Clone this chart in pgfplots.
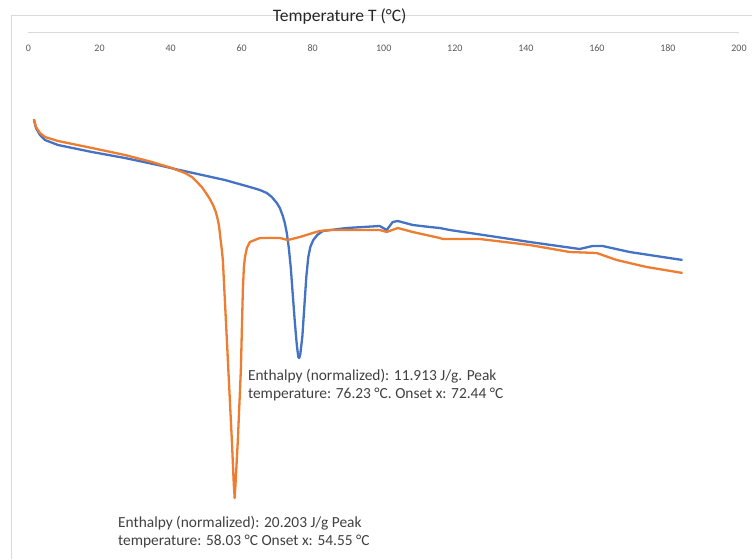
\documentclass[border=0pt]{standalone}
\usepackage{pgfplots}
\pgfplotsset{compat=1.18}
\usepackage{fontspec}
\setmainfont{Carlito}
\definecolor{xlblue}{HTML}{4472C4}
\definecolor{xlorange}{HTML}{ED7D31}
\definecolor{xlgrid}{HTML}{D9D9D9}
\definecolor{xltick}{HTML}{595959}
\definecolor{xltext}{HTML}{404040}
\begin{document}
\begin{tikzpicture}
\begin{axis}[
  scale only axis,
  width=710.5pt, height=527pt,
  xmin=0, xmax=200, ymin=-5.59, ymax=-0.32,
  axis x line=top, axis y line=none,
  x axis line style={-, draw=xlgrid, line width=0.8pt},
  xtick={0,20,...,200},
  major tick length=0pt,
  /pgf/number format/assume math mode=true,
  xticklabel style={anchor=base, yshift=-19.5pt, font=\fontsize{10}{12}\selectfont, text=xltick},
  clip=false,
]
% chart frame
\draw[xlgrid, line width=0.8pt] (axis cs:-4.93,-5.59) |- (axis cs:203.66,-0.15);
\node[anchor=base, inner sep=0pt, font=\fontsize{17.5}{20}\selectfont, text=black!85] at (axis cs:87.6,-0.22) {Temperature T (°C)};

\addplot[xlblue, line width=2.3pt, line join=round] coordinates {
(1.55,-1.20) (2.11,-1.28) (3.23,-1.35) (4.64,-1.40) (8.30,-1.45) (17.86,-1.52)
(27.14,-1.58) (36.43,-1.65) (41.21,-1.69) (55.27,-1.80) (62.31,-1.87) (65.12,-1.90)
(67.09,-1.93) (68.49,-1.97) (69.90,-2.03) (70.75,-2.08) (71.59,-2.16) (72.15,-2.23)
(72.71,-2.33) (73.28,-2.48) (73.84,-2.68) (74.40,-2.95) (74.97,-3.22) (75.53,-3.45)
(75.95,-3.57) (76.23,-3.58) (76.51,-3.54) (77.08,-3.37) (77.64,-3.07) (78.20,-2.77)
(78.76,-2.57) (79.33,-2.47) (80.17,-2.40) (81.29,-2.35) (82.84,-2.31)
(89.59,-2.28) (98.87,-2.26) (100.84,-2.30) (102.53,-2.22) (103.94,-2.21) (108.16,-2.25)
(112.94,-2.27) (115.75,-2.28) (118.56,-2.30) (131.79,-2.37) (141.07,-2.42) (155.13,-2.49)
(158.79,-2.46) (161.60,-2.46) (169.20,-2.52) (178.48,-2.57) (184.11,-2.60)
};
\addplot[xlorange, line width=2.3pt, line join=round] coordinates {
(1.55,-1.19) (2.11,-1.27) (3.23,-1.33) (4.64,-1.37) (8.30,-1.41) (17.86,-1.48)
(27.14,-1.55) (34.74,-1.62) (40.37,-1.68) (41.77,-1.70) (44.05,-1.73) (45.99,-1.77)
(47.40,-1.82) (48.80,-1.87) (49.96,-1.93) (51.05,-1.99) (51.94,-2.05) (52.74,-2.12)
(53.30,-2.20) (53.59,-2.25) (53.87,-2.33) (54.15,-2.42) (54.43,-2.50) (54.71,-2.60)
(55.84,-3.40) (57.24,-4.40) (57.80,-4.85) (58.03,-4.98) (58.26,-4.85) (58.93,-4.40)
(59.78,-3.70) (60.06,-3.30) (60.34,-2.90) (60.62,-2.68) (60.90,-2.58) (61.46,-2.48)
(62.31,-2.42) (63.71,-2.40) (65.12,-2.38) (70.75,-2.38)
(73.0,-2.40) (76.4,-2.37) (80.03,-2.33) (82.0,-2.31) (84.81,-2.30) (98.87,-2.30)
(100.84,-2.32) (103.94,-2.28) (108.16,-2.32) (115.75,-2.38) (116.60,-2.39) (127.0,-2.39)
(141.07,-2.45) (152.32,-2.52) (159.92,-2.53) (165.55,-2.60) (173.99,-2.67) (184.11,-2.73)
};

\node[anchor=base west, inner sep=0pt, align=left, text=xltext, font=\fontsize{15.4}{18.3}\selectfont]
  at (axis cs:61.74,-3.985) {Enthalpy (normalized): 11.913 J/g. Peak\\temperature: 76.23 °C. Onset x: 72.44 °C};
\node[anchor=base west, inner sep=0pt, align=left, text=xltext, font=\fontsize{15.4}{18.3}\selectfont]
  at (axis cs:25.19,-5.455) {Enthalpy (normalized): 20.203 J/g Peak\\temperature: 58.03 °C Onset x: 54.55 °C};

\coordinate (bl) at (axis cs:-8.02,-5.59);
\coordinate (tr) at (axis cs:203.66,0);
\end{axis}
\pgfresetboundingbox
\path[use as bounding box] (bl) rectangle (tr);
\end{tikzpicture}
\end{document}
